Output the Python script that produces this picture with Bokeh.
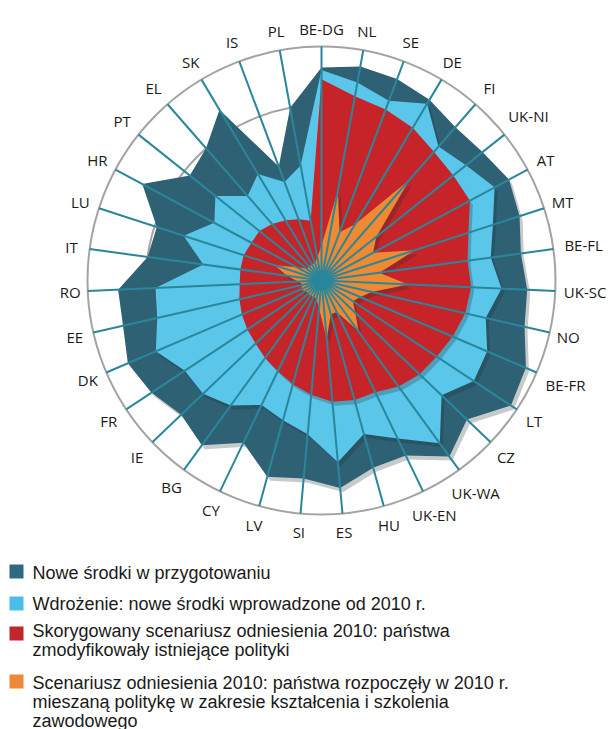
import math
from bokeh.plotting import figure
from bokeh.models import Range1d
from bokeh.core.properties import value
from bokeh.embed import file_html
from bokeh.resources import INLINE

categories = ["BE-DG", "NL", "SE", "DE", "FI", "UK-NI", "AT", "MT", "BE-FL", "UK-SC",
              "NO", "BE-FR", "LT", "CZ", "UK-WA", "UK-EN", "HU", "ES", "SI", "LV",
              "CY", "BG", "IE", "FR", "DK", "EE", "RO", "IT", "LU", "HR",
              "PT", "EL", "SK", "IS", "PL"]

# values on a 0-100 scale (100 = outer circle)
nowe = [91, 93, 92, 90, 87, 88, 91, 89, 86, 88, 89, 95, 97, 86, 93, 83, 83, 89, 85, 87,
        77, 87, 83, 87, 90, 87, 87, 75, 74, 87, 72, 75, 85, 52, 75]
wdrozenie = [90, 86, 82, 88, 76, 79, 84, 77, 73, 77, 72, 77, 78, 71, 86, 75, 68, 78, 66, 62,
             59, 66, 70, 70, 77, 72, 71, 51, 62, 52, 58, 48, 53, 45, 50]
skorygowany = [86, 80, 78, 76, 73, 72, 72, 66, 63, 64, 63, 61, 59, 58, 56, 53, 53, 52, 49, 46,
               43, 41, 39, 38, 37, 36, 35, 35, 35, 34, 34, 32, 30, 28, 26]
scenariusz = [15, 39, 22, 28, 57, 30, 25, 42, 25, 37, 22, 18, 16, 20, 27, 15, 15, 25, 12, 8,
              8, 8, 8, 8, 10, 8, 10, 15, 21, 12, 8, 8, 8, 8, 10]

grid_levels = [75, 100]
scale_max = 100

legend_labels = [
    ["Nowe środki w przygotowaniu"],
    ["Wdrożenie: nowe środki wprowadzone od 2010 r."],
    ["Skorygowany scenariusz odniesienia 2010: państwa", "zmodyfikowały istniejące polityki"],
    ["Scenariusz odniesienia 2010: państwa rozpoczęły w 2010 r.",
     "mieszaną politykę w zakresie kształcenia i szkolenia", "zawodowego"],
]

col_dark = "#2f6175"
col_light = "#5ac6ea"
col_red = "#c62428"
col_orange = "#ef8a33"
legend_colors = ["#2e6a80", "#4cbde6", "#c0272d", "#f0883a"]
spoke_col = "#2a879b"

W, H = 612, 729
p = figure(width=W, height=H, x_range=Range1d(0, W), y_range=Range1d(0, H),
           output_backend="svg", toolbar_location=None, min_border=0)
p.axis.visible = False
p.grid.visible = False
p.outline_line_color = None
p.background_fill_color = "white"

cx, cy, R = 321, 449, 234
n = len(categories)
angles = [2 * math.pi * i / n for i in range(n)]


def to_xy(vals):
    xs = [cx + v / scale_max * R * math.sin(a) for v, a in zip(vals, angles)]
    ys = [cy + v / scale_max * R * math.cos(a) for v, a in zip(vals, angles)]
    return xs, ys


# background circles
p.circle(x=[cx], y=[cy], radius=R, fill_color="white", line_color="#a3a3a3", line_width=2)
for g in grid_levels[:-1]:
    p.circle(x=[cx], y=[cy], radius=R * g / scale_max, fill_color=None,
             line_color="#a3a3a3", line_width=2)

# series polygons with soft shadow
for vals, col in [(nowe, col_dark), (wdrozenie, col_light), (skorygowany, col_red),
                  (scenariusz, col_orange)]:
    xs, ys = to_xy(vals)
    p.patch([x + 3 for x in xs], [y - 4 for y in ys], fill_color="#1a2a30",
            fill_alpha=0.25, line_color=None)
    p.patch(xs, ys, fill_color=col, line_color=None)

# spokes
ex, ey = to_xy([scale_max] * n)
p.segment(x0=[cx] * n, y0=[cy] * n, x1=ex, y1=ey, line_color=spoke_col, line_width=2)
p.circle(x=[cx], y=[cy], radius=10, fill_color=spoke_col, line_color=None)

# category labels
lx, ly = [], []
for a, c in zip(angles, categories):
    w = 8.2 * len(c)
    r = R + 9 + (w / 2) * abs(math.sin(a)) + 9 * abs(math.cos(a))
    lx.append(cx + r * math.sin(a))
    ly.append(cy + r * math.cos(a))
p.text(x=lx, y=ly, text=categories, text_font=value("Open Sans"), text_font_size="15px",
       text_align="center", text_baseline="middle", text_color="#1a1a1a")

# legend
sq_y = [158, 126, 96, 48]
line_y0 = [157, 126, 99, 47]
for col, sy, lines, ty in zip(legend_colors, sq_y, legend_labels, line_y0):
    p.rect(x=[16], y=[sy], width=14, height=14, fill_color=col, line_color=None)
    p.text(x=[32] * len(lines), y=[ty - 19 * k for k in range(len(lines))], text=lines,
           text_font=value("Liberation Sans"), text_font_size="18px",
           text_align="left", text_baseline="middle", text_color="#1a1a1a")

open("out.html", "w").write(file_html(p, INLINE))
